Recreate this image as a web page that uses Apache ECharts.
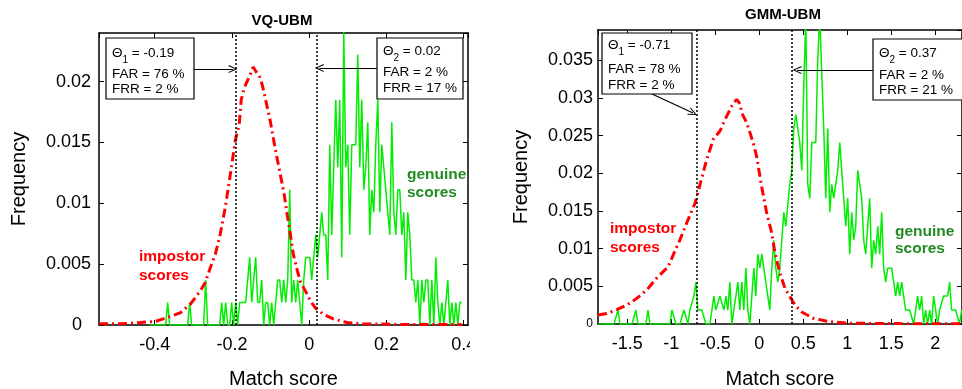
<!DOCTYPE html>
<html>
<head>
<meta charset="utf-8">
<script src="https://cdn.jsdelivr.net/npm/echarts@6/dist/echarts.min.js"></script>
<style>
  html, body { margin: 0; padding: 0; background: #fff; }
  #chart { width: 962px; height: 389px; }
</style>
</head>
<body>
<div id="chart"></div>
<script>
// number of scores each histogram is normalised by
const totalScores = 540

// VQ-UBM: genuine scores (histogram counts per bin), impostor density curve
const vqBinStart = -0.413
const vqBinWidth = 0.00518
const vqGenuineCounts = [
  0, 0, 0, 0, 0, 0, 0, 0, 0, 1, 0, 0, 0, 0, 0, 0, 0, 0, 0, 0,
  1, 0, 0, 0, 0, 0, 0, 0, 2, 0, 0, 0, 0, 0, 0, 0,
  1, 0, 1, 0, 0, 1, 0, 1, 0, 1, 1, 1, 1,
  2, 3, 1, 2, 3, 1, 1, 2, 0, 1, 1, 0, 1, 0, 1, 2, 2, 1, 2, 1, 2,
  6, 1, 2, 1, 2, 1, 0, 2, 3, 3, 3, 2, 3, 4, 3, 4, 5, 4, 4, 2,
  8, 4, 7, 10, 7, 10, 3, 13, 7, 8, 4, 8, 8, 8, 12, 7, 10, 6, 7, 9,
  4, 6, 5, 8, 10, 5, 8, 7, 6, 5, 4, 9, 5, 4, 6, 6, 4, 5, 2, 5,
  4, 2, 2, 1, 2, 0, 2, 1, 2, 2, 0, 2, 0, 3, 1, 0, 1, 0, 1, 2, 0, 1, 0, 1, 0, 1, 1
]
const vqImpostorX = [
  -0.544, -0.489, -0.437, -0.398, -0.378, -0.36, -0.334, -0.308, -0.282, -0.269,
  -0.256, -0.243, -0.23, -0.217, -0.204, -0.191, -0.181, -0.176, -0.168, -0.158,
  -0.15, -0.145, -0.137, -0.129, -0.122, -0.114, -0.101, -0.088, -0.075, -0.065,
  -0.057, -0.049, -0.041, -0.031, -0.023, -0.01, 0.003, 0.016, 0.036, 0.062,
  0.098, 0.14, 0.235, 0.395
]
const vqImpostorY = [
  0.0001, 0.0001, 0.0002, 0.0003, 0.0005, 0.0007, 0.001, 0.0017, 0.0028, 0.0035,
  0.0047, 0.0058, 0.0075, 0.0097, 0.0124, 0.0152, 0.0165, 0.0185, 0.0195, 0.0202,
  0.0208, 0.0212, 0.0208, 0.0205, 0.0198, 0.0187, 0.0168, 0.0145, 0.0124, 0.0108,
  0.0091, 0.0075, 0.0058, 0.0045, 0.0036, 0.0028, 0.002, 0.0014, 0.0009, 0.0005,
  0.0002, 0.0001, 0.00005, 0.00003
]
const vqThresholds = [-0.19, 0.02]
const vqBoxes = [
  { theta: '1', value: '-0.19', far: '76', frr: '2' },
  { theta: '2', value: '0.02', far: '2', frr: '17' }
]

// GMM-UBM
const gmmBinStart = -1.833
const gmmBinWidth = 0.0227
const gmmGenuineCounts = [
  0, 0, 0, 0, 0, 0, 0, 0, 0, 0, 1, 0, 0, 0, 0, 0, 0, 0, 0, 1,
  0, 0, 0, 0, 0, 1, 0, 0, 0, 0, 0, 0, 0, 0, 0, 0, 0, 1, 1, 0, 0, 0, 0,
  1, 1, 0, 1, 1, 2, 3, 1, 1, 1, 1, 0, 0, 0, 1, 2, 1, 1, 2, 2, 1, 2, 1, 3, 0, 1, 2, 3,
  1, 3, 1, 4, 1, 0, 0, 4, 2, 5, 4, 5, 5, 3, 2, 1, 4, 6, 4, 3, 4, 4,
  8, 7, 7, 10, 11, 14, 15, 14, 13, 11, 17, 22, 10, 9, 13, 13, 13, 19, 22, 18, 14,
  9, 14, 8, 10, 9, 10, 11, 13, 13, 9, 7, 9, 5, 8, 6, 7, 11, 11, 9, 6, 5, 5, 9,
  4, 6, 5, 7, 5, 8, 4, 3, 4, 4, 4, 3, 2, 3, 2, 3, 2, 1, 1, 1, 1,
  0, 1, 2, 1, 2, 0, 1, 0, 1, 0, 2, 1, 0, 1, 1, 2, 2, 2, 3, 1, 1, 1, 1, 0, 1
]
const gmmImpostorX = [
  -1.833, -1.734, -1.62, -1.507, -1.393, -1.28, -1.166, -1.034, -0.977, -0.901,
  -0.825, -0.731, -0.674, -0.598, -0.523, -0.447, -0.39, -0.314, -0.257, -0.219,
  -0.2, -0.143, -0.068, -0.03, 0.027, 0.084, 0.141, 0.178, 0.235, 0.292,
  0.349, 0.406, 0.482, 0.614, 0.803, 1.031, 1.599, 2.303
]
const gmmImpostorY = [
  0.0012, 0.0014, 0.0019, 0.0025, 0.0034, 0.0045, 0.0061, 0.0076, 0.0092, 0.0112,
  0.0134, 0.016, 0.0185, 0.0218, 0.0245, 0.0256, 0.0271, 0.0289, 0.0298, 0.0292,
  0.028, 0.0267, 0.024, 0.0222, 0.0182, 0.0147, 0.0121, 0.0094, 0.0067, 0.0047,
  0.0036, 0.0025, 0.0016, 0.00075, 0.0003, 0.0001, 0.00005, 0.00003
]
const gmmThresholds = [-0.71, 0.37]
const gmmBoxes = [
  { theta: '1', value: '-0.71', far: '78', frr: '2' },
  { theta: '2', value: '0.37', far: '2', frr: '21' }
]

const FONT = 'Liberation Sans, Arial, sans-serif'
const GREEN = '#00ee00'
const RED = '#ff0000'
// open arrow head, tip at the top
const chevron = 'path://M5,0 L10,10 L8.6,10 L5,2.6 L1.4,10 L0,10 Z'

const binPairs = (start, width, counts) =>
  counts.map((c, i) => [start + i * width, c / totalScores])
const curvePairs = (xs, ys) => xs.map((x, i) => [x, ys[i]])

const xAxisFor = (grid, min, max, split, pos, gap) => ({
  type: 'value',
  gridIndex: grid,
  position: pos,
  min: min,
  max: max,
  splitNumber: split,
  name: pos === 'bottom' ? 'Match score' : '',
  nameLocation: 'middle',
  nameGap: gap,
  nameTextStyle: { fontSize: 20, color: '#000', fontFamily: FONT },
  axisLine: { onZero: false, lineStyle: { color: '#000', width: 1.5 } },
  axisTick: { inside: true, length: 5, lineStyle: { color: '#000', width: 1 } },
  axisLabel: {
    show: pos === 'bottom',
    fontSize: 18,
    color: '#000',
    fontFamily: FONT,
    margin: 11,
    showMinLabel: false,
    showMaxLabel: false
  },
  splitLine: { show: false }
})

const yAxisFor = (grid, max, pos, gap, zeroStyle, margin) => ({
  type: 'value',
  gridIndex: grid,
  position: pos,
  min: 0,
  max: max,
  interval: 0.005,
  name: pos === 'left' ? 'Frequency' : '',
  nameLocation: 'middle',
  nameGap: gap,
  nameTextStyle: { fontSize: 20, color: '#000', fontFamily: FONT },
  axisLine: { onZero: false, lineStyle: { color: '#000', width: 1.5 } },
  axisTick: { inside: true, length: 5, lineStyle: { color: '#000', width: 1 } },
  axisLabel: {
    show: pos === 'left',
    fontSize: 18,
    color: '#000',
    fontFamily: FONT,
    margin: margin,
    showMaxLabel: false,
    formatter: (v) => (v === 0 ? '{z|0}' : String(parseFloat(v.toFixed(3)))),
    rich: { z: zeroStyle }
  },
  splitLine: { show: false }
})

const thresholdLines = (values) => ({
  silent: true,
  symbol: ['none', 'none'],
  label: { show: false },
  lineStyle: { type: [2, 2], color: '#000', width: 1.5 },
  data: values.map((v) => ({ xAxis: v }))
})

const arrowLines = (arrows) => ({
  silent: true,
  symbol: ['none', chevron],
  symbolSize: [8, 9],
  label: { show: false },
  lineStyle: { type: 'solid', color: '#000', width: 1.2 },
  data: arrows.map((a) => [{ coord: a[0] }, { coord: a[1] }])
})

const genuineSeries = (axis, data, arrows) => ({
  type: 'line',
  xAxisIndex: axis,
  yAxisIndex: axis,
  data: data,
  showSymbol: false,
  lineStyle: { color: GREEN, width: 1.5 },
  emphasis: { disabled: true },
  markLine: arrowLines(arrows),
  z: 2
})

const impostorSeries = (axis, data, thresholds) => ({
  type: 'line',
  xAxisIndex: axis,
  yAxisIndex: axis,
  data: data,
  showSymbol: false,
  lineStyle: { color: RED, width: 3, type: [9, 4, 2, 4] },
  emphasis: { disabled: true },
  markLine: thresholdLines(thresholds),
  z: 3
})

// text box with a theta line and FAR / FRR lines
const infoBox = (rect, tx, ys, box) => [
  {
    type: 'rect',
    shape: rect,
    style: { fill: '#fff', stroke: '#000', lineWidth: 1.2 },
    z: 50
  },
  {
    type: 'text',
    x: tx,
    y: ys[0],
    z: 51,
    style: {
      text: '{t|Θ}{s|' + box.theta + '}{t| = ' + box.value + '}',
      verticalAlign: 'middle',
      align: 'left',
      rich: {
        t: { fontSize: 13.5, fontFamily: FONT, fill: '#000' },
        s: { fontSize: 10, fontFamily: FONT, fill: '#000', verticalAlign: 'bottom', padding: [14, 0, 0, 0] }
      }
    }
  },
  {
    type: 'text',
    x: tx,
    y: ys[1],
    z: 51,
    style: { text: 'FAR = ' + box.far + ' %', fontSize: 13.5, fontFamily: FONT, fill: '#000', verticalAlign: 'middle' }
  },
  {
    type: 'text',
    x: tx,
    y: ys[2],
    z: 51,
    style: { text: 'FRR = ' + box.frr + ' %', fontSize: 13.5, fontFamily: FONT, fill: '#000', verticalAlign: 'middle' }
  }
]

const scoreLabel = (x, y, text, color, lh) => ({
  type: 'text',
  x: x,
  y: y,
  z: 40,
  style: {
    text: text,
    fontSize: 15.5,
    fontWeight: 'bold',
    fontFamily: FONT,
    fill: color,
    lineHeight: lh,
    verticalAlign: 'top'
  }
})

const titleText = (x, y, text) => ({
  type: 'text',
  x: x,
  y: y,
  style: { text: text, fontSize: 15, fontWeight: 'bold', fontFamily: FONT, fill: '#000', align: 'center', verticalAlign: 'middle' }
})

const chart = echarts.init(document.getElementById('chart'))

const option = {
  animation: false,
  backgroundColor: '#fff',
  grid: [
    { left: 99, top: 33, width: 369, height: 292, outerBoundsMode: 'none' },
    { left: 598, top: 30, width: 364, height: 294, outerBoundsMode: 'none' }
  ],
  xAxis: [
    xAxisFor(0, -0.544, 0.411, 5, 'bottom', 44),
    xAxisFor(0, -0.544, 0.411, 5, 'top', 0),
    xAxisFor(1, -1.833, 2.303, 8, 'bottom', 45),
    xAxisFor(1, -1.833, 2.303, 8, 'top', 0)
  ],
  yAxis: [
    yAxisFor(0, 0.024, 'left', 70, { fontSize: 18, fontFamily: FONT, padding: [0, 9, 0, 0] }, 8),
    yAxisFor(0, 0.024, 'right', 0, {}, 8),
    yAxisFor(1, 0.039, 'left', 67, { fontSize: 12, fontFamily: FONT }, 5),
    yAxisFor(1, 0.039, 'right', 0, {}, 8)
  ],
  series: [
    genuineSeries(0, binPairs(vqBinStart, vqBinWidth, vqGenuineCounts), [
      [[-0.299, 0.02104], [-0.197, 0.02104]],
      [[0.175, 0.02112], [0.026, 0.02112]]
    ]),
    impostorSeries(0, curvePairs(vqImpostorX, vqImpostorY), vqThresholds),
    genuineSeries(2, binPairs(gmmBinStart, gmmBinWidth, gmmGenuineCounts), [
      [[-1.219, 0.03051], [-0.753, 0.02799]],
      [[1.292, 0.03369], [0.428, 0.03369]]
    ]),
    impostorSeries(2, curvePairs(gmmImpostorX, gmmImpostorY), gmmThresholds)
  ],
  graphic: [
    titleText(282, 21, 'VQ-UBM'),
    titleText(783, 15, 'GMM-UBM'),
    ...infoBox({ x: 106, y: 38, width: 88, height: 61 }, 112, [53, 74, 89], vqBoxes[0]),
    ...infoBox({ x: 377, y: 38, width: 86, height: 61 }, 383, [51, 72, 88], vqBoxes[1]),
    ...infoBox({ x: 602, y: 33, width: 90, height: 61 }, 608, [45, 69, 85], gmmBoxes[0]),
    ...infoBox({ x: 873, y: 39, width: 95, height: 61 }, 879, [53, 75, 90], gmmBoxes[1]),
    scoreLabel(139, 247.5, 'impostor\nscores', RED, 19),
    scoreLabel(407, 165.5, 'genuine\nscores', '#228b22', 18),
    scoreLabel(610, 219.5, 'impostor\nscores', RED, 19),
    scoreLabel(895, 222.5, 'genuine\nscores', '#228b22', 17.5),
    // the left panel is cut off right after its last tick label
    { type: 'rect', shape: { x: 470, y: 331, width: 40, height: 28 }, style: { fill: '#fff' }, z: 100 }
  ]
}

chart.setOption(option)
</script>
</body>
</html>
